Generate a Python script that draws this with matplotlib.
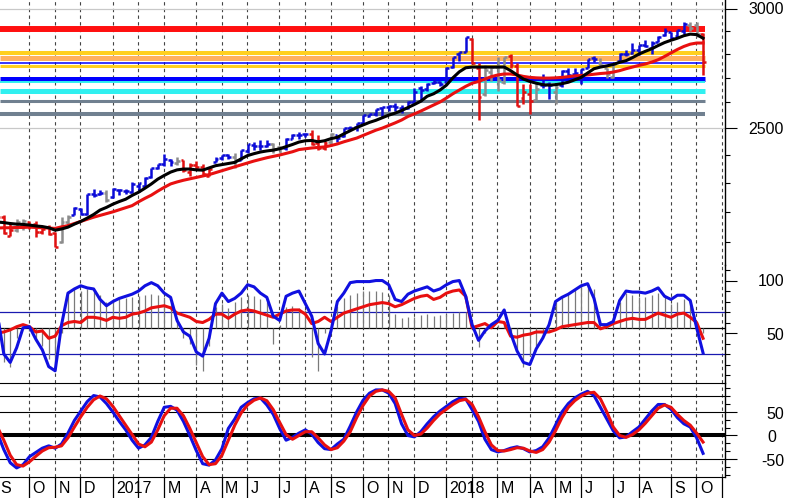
import numpy as np
import pandas as pd
import matplotlib
matplotlib.use("Agg")
import matplotlib.pyplot as plt
from matplotlib.ticker import FixedLocator, NullFormatter

plt.rcParams['font.family'] = ['Liberation Sans', 'DejaVu Sans']

# weekly bars (friday), S&P 500
start_date = "2016-09-02"
opens = [2170, 2181, 2120, 2140, 2160, 2165, 2160, 2133, 2149, 2129,
         2100, 2164, 2187, 2210, 2191, 2259, 2260, 2263, 2251, 2273,
         2270, 2268, 2287, 2289, 2321, 2353, 2367, 2380, 2371, 2379,
         2336, 2363, 2356, 2324, 2372, 2389, 2399, 2392, 2382, 2415,
         2437, 2432, 2434, 2439, 2429, 2424, 2459, 2473, 2477, 2478,
         2444, 2425, 2447, 2474, 2470, 2502, 2503, 2521, 2547, 2555,
         2578, 2583, 2588, 2580, 2579, 2603, 2657, 2653, 2679, 2683,
         2684, 2745, 2799, 2809, 2867, 2741, 2636, 2723, 2745, 2681,
         2791, 2750, 2619, 2633, 2611, 2671, 2675, 2643, 2672, 2728,
         2717, 2705, 2743, 2782, 2764, 2742, 2705, 2769, 2801, 2804,
         2819, 2840, 2828, 2854, 2881, 2896, 2880, 2903, 2927, 2926, 2886]
highs = [2184, 2187, 2163, 2175, 2175, 2169, 2169, 2148, 2154, 2131,
         2182, 2189, 2214, 2212, 2260, 2278, 2273, 2273, 2282, 2279,
         2276, 2301, 2300, 2319, 2352, 2368, 2401, 2386, 2391, 2382,
         2370, 2378, 2366, 2356, 2392, 2400, 2404, 2406, 2418, 2441,
         2446, 2454, 2453, 2443, 2433, 2463, 2477, 2484, 2480, 2491,
         2474, 2452, 2481, 2475, 2501, 2509, 2520, 2552, 2555, 2575,
         2582, 2589, 2598, 2590, 2605, 2657, 2665, 2680, 2695, 2685,
         2744, 2787, 2810, 2873, 2870, 2763, 2755, 2748, 2789, 2787,
         2802, 2762, 2675, 2673, 2680, 2718, 2683, 2677, 2732, 2743,
         2742, 2737, 2779, 2790, 2785, 2743, 2764, 2804, 2816, 2848,
         2841, 2863, 2855, 2877, 2916, 2898, 2906, 2941, 2939, 2940, 2891]
lows = [2157, 2127, 2119, 2133, 2139, 2143, 2115, 2124, 2123, 2084,
        2097, 2151, 2187, 2187, 2187, 2248, 2256, 2234, 2245, 2258,
        2259, 2263, 2267, 2288, 2317, 2348, 2358, 2359, 2361, 2336,
        2322, 2345, 2328, 2322, 2372, 2379, 2386, 2353, 2380, 2405,
        2416, 2416, 2430, 2405, 2408, 2419, 2457, 2459, 2466, 2437,
        2418, 2418, 2432, 2447, 2468, 2496, 2488, 2520, 2542, 2547,
        2544, 2566, 2566, 2557, 2576, 2600, 2605, 2646, 2676, 2667,
        2683, 2743, 2769, 2809, 2758, 2533, 2624, 2688, 2647, 2676,
        2742, 2586, 2594, 2553, 2611, 2660, 2613, 2594, 2662, 2701,
        2707, 2676, 2743, 2765, 2749, 2698, 2698, 2767, 2791, 2802,
        2796, 2830, 2802, 2853, 2880, 2864, 2873, 2886, 2903, 2875, 2710]
closes = [2180, 2128, 2139, 2165, 2168, 2154, 2133, 2141, 2126, 2085,
          2164, 2182, 2213, 2192, 2260, 2258, 2264, 2239, 2277, 2275,
          2271, 2295, 2297, 2316, 2351, 2367, 2383, 2373, 2378, 2344,
          2363, 2356, 2329, 2349, 2384, 2399, 2391, 2382, 2416, 2439,
          2432, 2433, 2438, 2423, 2425, 2459, 2473, 2472, 2477, 2441,
          2426, 2443, 2477, 2461, 2500, 2502, 2519, 2549, 2553, 2575,
          2581, 2588, 2582, 2579, 2602, 2642, 2652, 2676, 2683, 2674,
          2743, 2786, 2810, 2873, 2762, 2620, 2732, 2747, 2691, 2787,
          2752, 2588, 2641, 2604, 2656, 2670, 2670, 2663, 2728, 2713,
          2721, 2735, 2779, 2779, 2755, 2718, 2760, 2801, 2802, 2819,
          2840, 2833, 2850, 2875, 2902, 2872, 2905, 2930, 2914, 2886, 2767]
# impulse colour of each bar: b = up, r = down, g = neutral
bar_impulse = ("rrrggrrrrrggbbbbbgbbbbbbbbbbgrrrrrbbbgbbbbbggbbbbrrrg"
               "bbbbbbbbbbbbbbbbbbbbbrrggggrrrrgbbgbbbbbbgggbbbbbbbbbbbggr")

ma_fast = [2165, 2163, 2160, 2158, 2157, 2155, 2152, 2150, 2146, 2138,
           2142, 2148, 2158, 2167, 2178, 2190, 2205, 2214, 2225, 2234,
           2242, 2255, 2266, 2280, 2295, 2312, 2325, 2337, 2345, 2348,
           2348, 2345, 2344, 2352, 2360, 2364, 2368, 2372, 2385, 2397,
           2404, 2410, 2414, 2417, 2422, 2430, 2438, 2447, 2452, 2453,
           2448, 2452, 2460, 2465, 2478, 2490, 2502, 2512, 2522, 2530,
           2540, 2550, 2558, 2568, 2580, 2592, 2605, 2625, 2635, 2650,
           2670, 2700, 2725, 2742, 2745, 2745, 2745, 2745, 2745, 2745,
           2730, 2712, 2695, 2685, 2678, 2672, 2670, 2672, 2676, 2682,
           2692, 2702, 2720, 2738, 2745, 2750, 2756, 2765, 2772, 2785,
           2800, 2812, 2823, 2837, 2850, 2860, 2869, 2880, 2887, 2885, 2869]
ma_slow = [2145, 2146, 2146, 2147, 2147, 2148, 2147, 2146, 2145, 2144,
           2149, 2153, 2160, 2167, 2174, 2181, 2187, 2193, 2199, 2206,
           2213, 2220, 2233, 2245, 2256, 2270, 2283, 2295, 2302, 2308,
           2313, 2318, 2323, 2328, 2335, 2342, 2349, 2356, 2363, 2370,
           2377, 2383, 2389, 2394, 2399, 2405, 2411, 2419, 2422, 2425,
           2427, 2429, 2434, 2440, 2448, 2455, 2462, 2472, 2482, 2492,
           2500, 2510, 2520, 2531, 2545, 2555, 2566, 2578, 2590, 2602,
           2618, 2635, 2650, 2665, 2678, 2685, 2695, 2705, 2712, 2716,
           2716, 2712, 2706, 2702, 2700, 2699, 2699, 2700, 2702, 2705,
           2708, 2710, 2712, 2715, 2718, 2720, 2724, 2730, 2738, 2745,
           2752, 2758, 2766, 2776, 2790, 2805, 2820, 2833, 2843, 2848, 2848]

# support / resistance levels
levels = [2909, 2804, 2785, 2764, 2751, 2697, 2683, 2648, 2604, 2554]
level_colors = ['#ff1010', '#ffd020', '#ffb060', '#0000ff', '#ffd020',
                '#0000ff', '#30f0f0', '#30f0f0', '#708090', '#708090']
level_widths = [4.3, 2.9, 3.6, 1.1, 2.2, 3.6, 1.4, 3.6, 2.2, 2.9]

# middle panel oscillator
osc_blue = [68, 30, 22, 36, 55, 56, 44, 34, 18, 14,
            58, 88, 92, 95, 93, 92, 82, 76, 80, 83,
            85, 87, 90, 95, 98, 95, 88, 84, 62, 51,
            47, 32, 28, 45, 78, 88, 80, 83, 88, 96,
            94, 88, 84, 66, 62, 85, 88, 90, 78, 66,
            40, 30, 52, 80, 88, 98, 99, 99, 99, 100,
            100, 96, 82, 80, 87, 90, 92, 94, 90, 92,
            96, 99, 100, 85, 58, 43, 52, 58, 62, 72,
            50, 33, 22, 20, 35, 45, 58, 80, 84, 87,
            91, 95, 97, 83, 58, 58, 61, 81, 90, 89,
            89, 88, 90, 93, 85, 82, 86, 86, 81, 55, 31]
osc_red = [50, 51, 53, 56, 58, 56, 51, 52, 45, 47,
           57, 60, 61, 60, 65, 65, 64, 62, 65, 64,
           65, 68, 69, 71, 74, 75, 76, 74, 69, 67,
           65, 61, 60, 63, 68, 68, 64, 68, 71, 72,
           71, 69, 67, 65, 68, 71, 72, 72, 68, 59,
           61, 65, 61, 65, 69, 71, 73, 75, 77, 78,
           79, 78, 75, 77, 80, 83, 85, 86, 82, 84,
           88, 90, 91, 85, 55, 57, 59, 55, 61, 60,
           47, 46, 48, 49, 51, 51, 51, 53, 56, 57,
           58, 59, 60, 60, 54, 56, 59, 61, 63, 64,
           63, 63, 66, 69, 67, 65, 68, 69, 65, 60, 45]
osc_hist = [30, 22, 18, 45, 55, 52, 42, 38, 25, 15,
            50, 90, 92, 90, 92, 90, 86, 80, 82, 82,
            83, 84, 85, 86, 87, 86, 84, 80, 64, 45,
            40, 20, 14, 38, 75, 78, 74, 80, 84, 86,
            85, 82, 80, 40, 58, 75, 76, 74, 72, 27,
            14, 50, 60, 76, 83, 86, 88, 90, 90, 90,
            89, 86, 68, 64, 65, 65, 67, 68, 66, 67,
            68, 69, 70, 70, 58, 37, 50, 57, 58, 60,
            48, 35, 18, 28, 38, 45, 52, 80, 85, 88,
            92, 96, 98, 92, 62, 60, 64, 80, 88, 86,
            84, 84, 86, 88, 86, 78, 80, 82, 78, 60, 50]

# bottom panel cycle oscillator
cyc_blue = [5, -30, -58, -69, -62, -45, -36, -27, -22, -27,
            -18, 5, 32, 52, 72, 85, 82, 68, 50, 30,
            12, -10, -27, -20, -4, 30, 60, 62, 54, 30,
            0, -32, -60, -63, -52, -28, 15, 35, 60, 70,
            78, 80, 65, 45, 15, -10, -4, 5, 12, 3,
            -15, -28, -30, -18, -8, 20, 50, 75, 90, 97,
            97, 90, 68, 25, 0, -3, 8, 25, 40, 52,
            62, 72, 79, 78, 55, 30, -8, -30, -35, -32,
            -27, -24, -28, -35, -32, -24, -5, 22, 50, 68,
            80, 88, 94, 85, 60, 35, 10, -5, -3, 8,
            18, 35, 52, 66, 66, 56, 38, 25, 18, -5, -38]
cyc_red = [18, -10, -42, -62, -65, -56, -44, -33, -26, -25,
           -22, -5, 18, 40, 60, 76, 84, 78, 62, 42,
           22, 2, -18, -24, -14, 12, 42, 58, 58, 42,
           15, -15, -45, -62, -60, -42, -10, 22, 48, 65,
           75, 80, 74, 55, 28, 2, -8, 0, 8, 8,
           -5, -20, -30, -26, -12, 8, 38, 64, 84, 94,
           97, 94, 80, 45, 12, 0, 3, 16, 32, 46,
           56, 66, 74, 77, 66, 40, 8, -20, -32, -33,
           -30, -26, -27, -33, -36, -30, -14, 10, 38, 60,
           74, 84, 90, 92, 78, 50, 18, 0, -4, 2,
           12, 26, 42, 58, 65, 60, 45, 32, 22, 5, -14]

W, H = 789, 498
fig = plt.figure(figsize=(W / 100, H / 100), dpi=100)


def px_axes(top, bottom, left=0, right=725):
    ax = fig.add_axes([left / W, 1 - bottom / H, (right - left) / W, (bottom - top) / H])
    ax.patch.set_visible(False)
    return ax


ax1 = px_axes(0, 265)
ax2 = px_axes(265, 383)
ax3 = px_axes(383, 477)
ax4 = px_axes(477, 498)

n = len(closes)
idx = np.arange(n)
xlim = (0.405, 113.42)
dates = pd.date_range(start_date, periods=114, freq="W-FRI")
month_idx = [i for i in range(len(dates)) if i == 0 or dates[i].month != dates[i - 1].month]

for ax in (ax1, ax2, ax3, ax4):
    ax.set_xlim(*xlim)
    for s in ('left', 'top', 'bottom', 'right'):
        ax.spines[s].set_visible(False)
    ax.tick_params(axis='x', which='both', bottom=False, labelbottom=False)

for ax in (ax1, ax2, ax3):
    ax.spines['right'].set_visible(True)
    ax.spines['right'].set_linewidth(1.0)
    ax.yaxis.tick_right()
    ax.tick_params(axis='y', which='major', length=8.5, width=0.8, labelright=False)
    ax.tick_params(axis='y', which='minor', length=3.6, width=0.8, labelright=False)
    for i in month_idx[1:]:
        ax.axvline(i - 0.05, color='#444444', lw=0.8, ls=(0, (3, 3)), zorder=0.5)
ax3.spines['top'].set_visible(True)
ax3.spines['bottom'].set_visible(True)

# ---- price panel
ax1.set_yscale('log')
ax1.set_ylim(2027, 3042)
ax1.yaxis.set_major_locator(FixedLocator([2500, 3000]))
ax1.yaxis.set_minor_locator(FixedLocator([p for p in range(2100, 3000, 100) if p != 2500]))
ax1.yaxis.set_major_formatter(NullFormatter())
ax1.yaxis.set_minor_formatter(NullFormatter())
ax1.axhline(3000, color='#c8c8c8', lw=0.9, zorder=0.6)
ax1.axhline(2500, color='#c8c8c8', lw=0.9, zorder=0.6)
ax1.hlines(levels, xlim[0], 110.25, colors=level_colors, linewidths=level_widths, zorder=1)

col_map = {'b': '#0a0ad8', 'r': '#e01010', 'g': '#8c8c8c'}
bar_cols = [col_map[c] for c in bar_impulse]
ax1.vlines(idx, lows, highs, colors=bar_cols, lw=1.8, zorder=3)
ax1.hlines(opens, idx - 0.45, idx, colors=bar_cols, lw=1.8, zorder=3)
ax1.hlines(closes, idx, idx + 0.45, colors=bar_cols, lw=1.8, zorder=3)
ax1.plot(idx, ma_slow, color='#e81010', lw=2.2, zorder=4)
ax1.plot(idx, ma_fast, color='black', lw=2.2, zorder=4)

# ---- oscillator panel
ax2.set_ylim(2.4, 114.8)
ax2.yaxis.set_major_locator(FixedLocator([50, 100]))
ax2.yaxis.set_minor_locator(FixedLocator(range(10, 111, 10)))
ax2.yaxis.set_major_formatter(NullFormatter())
ax2.axhline(70, color='#1a1ab0', lw=0.9, zorder=1)
ax2.axhline(30, color='#1a1ab0', lw=0.9, zorder=1)
ax2.axhline(55, color='black', lw=0.9, zorder=1)
ax2.vlines(idx, 55, osc_hist, colors='#7a7a7a', lw=0.9, zorder=2)
ax2.plot(idx, osc_red, color='#e81010', lw=2.2, zorder=3)
ax2.plot(idx, osc_blue, color='#1010e0', lw=2.2, zorder=4)

# ---- cycle panel
ax3.set_ylim(-88.3, 111.7)
ax3.yaxis.set_major_locator(FixedLocator([-50, 0, 50]))
ax3.yaxis.set_minor_locator(FixedLocator(np.arange(-5, 7) * 50 / 3))
ax3.yaxis.set_major_formatter(NullFormatter())
for v in (250 / 3, 50, -50):
    ax3.axhline(v, color='black', lw=0.8, zorder=1)
ax3.axhline(0, color='black', lw=2.9, zorder=1)
ax3.plot(idx, cyc_blue, color='#1010e0', lw=2.2, zorder=3)
ax3.plot(idx, cyc_red, color='#e81010', lw=2.2, zorder=4)

# ---- month strip
ax4.set_ylim(0, 1)
ax4.set_yticks([])
for i in month_idx:
    if i > xlim[1]:
        continue
    ax4.axvline(i - 0.05, color='black', lw=0.9)
    m = dates[i].month
    if m == 2:
        continue
    lab = str(dates[i].year) if m == 1 else dates[i].strftime('%b')[0]
    if i + 0.5 < xlim[1] - 1:
        ax4.text(i + 0.5, 0.45, lab, ha='left', va='center', fontsize=11.5)

# right-hand value labels
right_labels = [("3000", 10, 'right', 784), ("2500", 130, 'right', 784),
                ("100", 281, 'right', 784), ("50", 335, 'right', 784),
                ("50", 414, 'right', 784), ("0", 437, 'left', 767),
                ("-50", 461, 'right', 784)]
for s, y, ha, x in right_labels:
    fig.text(x / W, 1 - y / H, s, ha=ha, va='center', fontsize=11.5)

fig.savefig("out.png", dpi=100)
